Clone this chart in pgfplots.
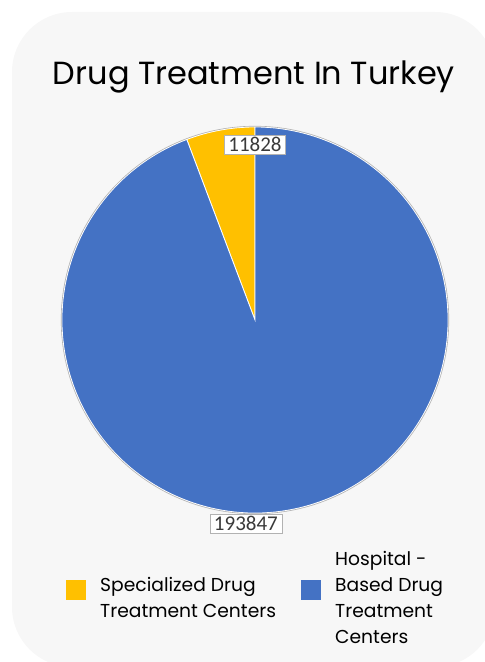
\documentclass[border=0pt]{standalone}
\usepackage{pgfplots}
\pgfplotsset{compat=1.18}
\usepackage{pgfplotstable}
\usepackage{fontspec}
\setmainfont{Poppins}
\newfontfamily\calibri{Carlito}
\definecolor{pieyellow}{HTML}{FFC000}
\definecolor{pieblue}{HTML}{4472C4}
\definecolor{bgc}{HTML}{F7F7F7}
\definecolor{lbltext}{HTML}{3A3A3A}
\pgfplotstableread{
name value
Specialized 11828
Hospital 193847
}\drugdata
\begin{document}
\begin{tikzpicture}[x=1pt,y=1pt]
\useasboundingbox (0,0) rectangle (485,662);
\begin{scope}
\clip (0,0) rectangle (485,662);
\fill[bgc, rounded corners=60pt] (12,-5) rectangle (495,650);
\end{scope}
\coordinate (pc) at (255,342);
\node[anchor=base, font=\fontsize{32}{36}\selectfont] at (254,577) {Drug Treatment In Turkey};
\begin{axis}[at={(pc)}, anchor=center, width=386pt, height=386pt,
  scale only axis, xmin=-1, xmax=1, ymin=-1, ymax=1, hide axis, clip=false]
\pgfplotstablegetelem{0}{value}\of\drugdata \let\va\pgfplotsretval
\pgfplotstablegetelem{1}{value}\of\drugdata \let\vb\pgfplotsretval
\edef\angA{\fpeval{90+360*\va/(\va+\vb)}}
\fill[pieyellow, draw=white, line width=0.8pt] (axis cs:0,0) -- (axis cs:0,1) arc[start angle=90, end angle=\angA, radius=193pt] -- cycle;
\fill[pieblue, draw=white, line width=0.8pt] (axis cs:0,0) -- (axis cs:{cos(\angA)},{sin(\angA)}) arc[start angle=\angA, end angle=450, radius=193pt] -- cycle;
\draw[black!30, line width=0.6pt] (axis cs:0,0) circle[radius=193.8pt];
\node[fill=white, draw=black!30, text=lbltext, font=\calibri\fontsize{21}{22}\selectfont, inner xsep=4pt, inner ysep=3pt, text height=13pt, text depth=0pt] at (axis cs:0,0.907) {\va};
\node[fill=white, draw=black!30, text=lbltext, font=\calibri\fontsize{21}{22}\selectfont, inner xsep=4pt, inner ysep=3pt, text height=13pt, text depth=0pt] at (axis cs:-0.047,-1.057) {\vb};
\end{axis}
\fill[pieyellow] (66,62) rectangle (86,82);
\fill[pieblue] (301,62) rectangle (321,82);
\begin{scope}[every node/.style={anchor=base west, inner xsep=0pt, font=\fontsize{18.7}{20}\selectfont}]
\node at (100,70) {Specialized Drug};
\node at (100,45) {Treatment Centers};
\node at (335,96) {Hospital -};
\node at (335,70) {Based Drug};
\node at (335,45) {Treatment};
\node at (335,19) {Centers};
\end{scope}
\end{tikzpicture}
\end{document}
